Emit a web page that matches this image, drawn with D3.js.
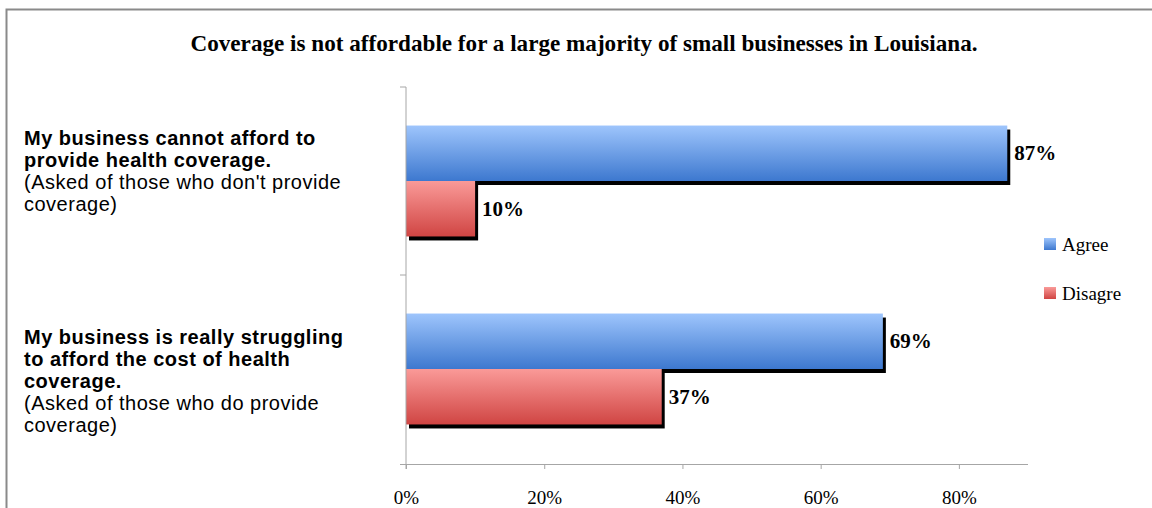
<!DOCTYPE html>
<html><head><meta charset="utf-8">
<script src="https://cdn.jsdelivr.net/npm/d3@7"></script>
<style>body{margin:0;background:#fff}svg{display:block}</style>
</head><body>
<svg id="c" width="1152" height="508"></svg>
<script>
const title = "Coverage is not affordable for a large majority of small businesses in Louisiana.";
const categories = ["cannot_afford", "struggling"];
const categoryBold = [
  ["My business cannot afford to", "provide health coverage."],
  ["My business is really struggling", "to afford the cost of health", "coverage."]
];
const categoryNote = [
  ["(Asked of those who don't provide", "coverage)"],
  ["(Asked of those who do provide", "coverage)"]
];
const seriesNames = ["Agree", "Disagre"];
const agreeValues = [0.87, 0.69];
const disagreeValues = [0.10, 0.37];
const tickValues = [0, 0.2, 0.4, 0.6, 0.8];
const tickLabels = ["0%", "20%", "40%", "60%", "80%"];

const svg = d3.select("#c");
const defs = svg.append("defs");
const grads = [["gA", "#9ec5fc", "#3d78cf"], ["gD", "#fa9a98", "#d04543"]];
grads.forEach(([id, a, b]) => {
  const g = defs.append("linearGradient").attr("id", id).attr("x1", 0).attr("y1", 0).attr("x2", 0).attr("y2", 1);
  g.append("stop").attr("offset", "0%").attr("stop-color", a);
  g.append("stop").attr("offset", "100%").attr("stop-color", b);
});

// frame
svg.append("rect").attr("x", 6.5).attr("y", 9.5).attr("width", 1200).attr("height", 600)
  .attr("fill", "none").attr("stroke", "#8a8a8a").attr("stroke-width", 2);

svg.append("text").text(title).attr("x", 584).attr("y", 51).attr("text-anchor", "middle")
  .attr("font-family", "Liberation Serif").attr("font-weight", "bold").attr("font-size", 24)
  .attr("textLength", 787).attr("lengthAdjust", "spacingAndGlyphs").attr("fill", "#000");

const x = d3.scaleLinear().domain([0, 0.9]).range([406, 1028]);
const y = d3.scaleBand().domain(categories).range([87, 463]).paddingInner(0.41).paddingOuter(0.205);
const ys = d3.scaleBand().domain(seriesNames).range([0, y.bandwidth()]);

const data = [];
categories.forEach((c, i) => {
  data.push({c, s: seriesNames[0], v: agreeValues[i], fill: "url(#gA)"});
  data.push({c, s: seriesNames[1], v: disagreeValues[i], fill: "url(#gD)"});
});

// shadows
svg.append("g").selectAll("rect").data(data).join("rect")
  .attr("x", x(0) + 3).attr("y", d => y(d.c) + ys(d.s) + 4)
  .attr("width", d => x(d.v) - x(0)).attr("height", ys.bandwidth())
  .attr("fill", "#000");
// bars
svg.append("g").selectAll("rect").data(data).join("rect")
  .attr("x", x(0)).attr("y", d => y(d.c) + ys(d.s))
  .attr("width", d => x(d.v) - x(0)).attr("height", ys.bandwidth())
  .attr("fill", d => d.fill);
// value labels
svg.append("g").selectAll("text").data(data).join("text")
  .attr("x", d => x(d.v) + 7).attr("y", d => y(d.c) + ys(d.s) + ys.bandwidth() / 2 + 7)
  .attr("font-family", "Liberation Serif").attr("font-weight", "bold").attr("font-size", 21)
  .text(d => Math.round(d.v * 100) + "%");

// axes
const axisColor = "#a6a6a6";
svg.append("line").attr("x1", x(0)).attr("x2", x(0)).attr("y1", 87).attr("y2", 469).attr("stroke", axisColor);
[87, y(categories[1]) - y.step() * y.paddingInner() / 2].forEach(t => {
  svg.append("line").attr("x1", x(0) - 6).attr("x2", x(0)).attr("y1", t).attr("y2", t).attr("stroke", axisColor);
});

const xAx = svg.append("g").attr("transform", "translate(0,464)")
  .call(d3.axisBottom(x).tickValues(tickValues).tickFormat((d, i) => tickLabels[i]).tickSize(5).tickSizeOuter(0));
xAx.select(".domain").attr("stroke", axisColor).attr("d", "M400,0.5H1028");
xAx.selectAll(".tick line").attr("stroke", axisColor);
xAx.selectAll(".tick text").attr("font-family", "Liberation Serif").attr("font-size", 19)
  .attr("fill", "#000").attr("dy", 0).attr("y", 40);

// category labels
const labelShift = [-10, 12];
categories.forEach((c, i) => {
  const lines = categoryBold[i].map(t => ({t, b: true})).concat(categoryNote[i].map(t => ({t, b: false})));
  const cy = y(c) + y.bandwidth() / 2 + labelShift[i];
  const n = lines.length;
  lines.forEach((l, j) => {
    svg.append("text").attr("x", 24).attr("y", cy + (j - (n - 1) / 2) * 22 + 7)
      .attr("font-family", "Liberation Sans").attr("font-size", 20).attr("letter-spacing", 0.5)
      .attr("font-weight", l.b ? "bold" : "normal").attr("fill", "#000").text(l.t);
  });
});

// legend
const legY = [244, 293];
const legG = svg.append("g").selectAll("g").data(seriesNames).join("g")
  .attr("transform", (d, i) => `translate(1044,${legY[i]})`);
legG.append("rect").attr("x", 0).attr("y", -6).attr("width", 12).attr("height", 12)
  .attr("fill", (d, i) => i === 0 ? "url(#gA)" : "url(#gD)");
legG.append("text").attr("x", 18).attr("y", 7).attr("font-family", "Liberation Serif")
  .attr("font-size", 19).text(d => d);
</script>
</body></html>
